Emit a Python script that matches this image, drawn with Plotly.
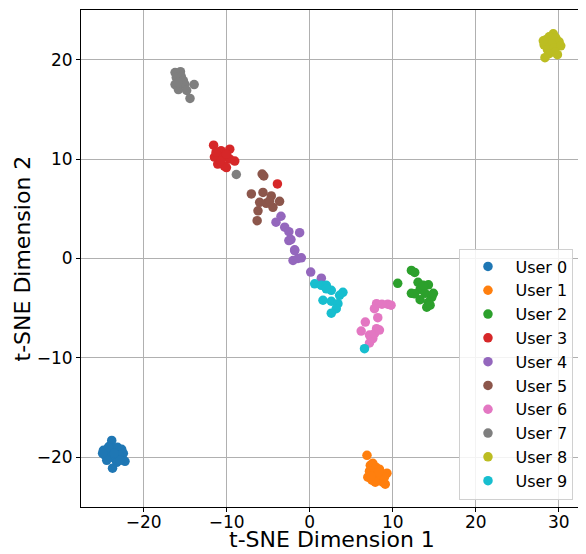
import plotly.graph_objects as go

labels = ["User 0", "User 1", "User 2", "User 3", "User 4",
          "User 5", "User 6", "User 7", "User 8", "User 9"]
colors = ["#1f77b4", "#ff7f0e", "#2ca02c", "#d62728", "#9467bd",
          "#8c564b", "#e377c2", "#7f7f7f", "#bcbd22", "#17becf"]

u0_x = [-23.85, -24.15, -24.85, -24.65, -24.25, -23.65, -23.15, -22.65, -22.45, -22.95, -23.45, -23.95, -24.45, -23.25, -22.25, -22.85, -23.75, -24.25, -23.55, -24.95]
u0_y = [-18.3, -18.9, -19.3, -19.8, -19.5, -19.1, -19.0, -19.2, -19.6, -19.8, -20.1, -20.0, -20.3, -20.5, -20.4, -20.3, -21.1, -19.0, -19.6, -19.6]

u1_x = [6.9, 7.3, 7.6, 8.0, 8.4, 7.2, 7.8, 8.6, 9.3, 7.0, 7.5, 8.1, 8.8, 9.0, 7.9, 8.3, 7.4, 9.1]
u1_y = [-19.8, -20.8, -20.6, -21.0, -21.2, -21.4, -21.6, -21.8, -21.6, -22.0, -22.3, -22.2, -22.5, -22.0, -22.5, -21.5, -21.9, -22.7]

u2_x = [12.25, 12.65, 10.6, 13.05, 14.3, 12.25, 13.3, 13.9, 14.7, 13.3, 14.3, 14.1, 12.65, 13.7, 14.9, 14.5]
u2_y = [-1.2, -1.4, -2.5, -2.4, -2.65, -3.5, -3.1, -3.5, -3.9, -4.15, -4.4, -4.9, -3.55, -2.7, -3.5, -4.7]

u3_x = [-11.58, -10.68, -9.63, -11.48, -10.43, -9.63, -9.03, -11.08, -10.28, -10.68, -11.28, -10.03, -3.89, -10.03]
u3_y = [11.4, 10.85, 11.0, 10.2, 10.2, 10.0, 9.8, 9.5, 9.3, 9.8, 10.7, 10.5, 7.5, 9.15]

u4_x = [-3.46, -4.06, -3.01, -2.51, -1.21, -2.51, -1.81, -2.01, -1.01, -1.41, 0.12, 1.4, -1.81, -2.26]
u4_y = [4.25, 3.65, 3.15, 2.7, 2.6, 1.8, 0.87, -0.2, 0.07, 0.0, -1.37, -1.98, 0.8, 1.9]

u5_x = [-5.73, -7.03, -5.63, -4.63, -6.03, -5.23, -3.63, -4.43, -6.23, -6.33, -4.83, -5.53]
u5_y = [8.5, 6.5, 6.65, 6.3, 5.65, 5.55, 5.75, 5.15, 4.8, 3.8, 5.8, 8.3]

u6_x = [8.05, 9.4, 9.8, 7.8, 8.2, 6.7, 8.05, 6.2, 7.2, 7.6, 7.2, 7.8, 8.4, 8.7]
u6_y = [-4.55, -4.6, -4.7, -5.05, -5.95, -6.4, -7.06, -7.3, -7.7, -8.06, -8.5, -7.56, -7.2, -4.6]

u7_x = [-16.22, -15.57, -16.07, -15.47, -16.22, -15.82, -15.02, -14.82, -13.92, -14.42, -15.22, -15.82, -8.84]
u7_y = [18.7, 18.8, 18.2, 18.3, 17.5, 17.0, 17.5, 16.9, 17.5, 16.1, 17.9, 17.7, 8.45]

u8_x = [29.34, 28.84, 28.44, 29.64, 30.04, 29.14, 28.24, 28.64, 29.44, 30.24, 28.84, 28.34, 29.54, 28.14, 29.84]
u8_y = [22.6, 22.3, 22.0, 22.2, 21.8, 21.6, 21.5, 21.0, 21.2, 21.4, 20.6, 20.2, 20.8, 21.9, 20.5]

u9_x = [0.6, 1.4, 2.0, 2.6, 4.0, 3.6, 1.6, 2.6, 3.4, 3.2, 2.6, 2.0, 6.6]
u9_y = [-2.55, -2.7, -2.7, -3.2, -3.4, -3.7, -4.2, -4.3, -4.55, -5.05, -5.5, -3.05, -9.07]

xs = [u0_x, u1_x, u2_x, u3_x, u4_x, u5_x, u6_x, u7_x, u8_x, u9_x]
ys = [u0_y, u1_y, u2_y, u3_y, u4_y, u5_y, u6_y, u7_y, u8_y, u9_y]

x_ticks = [-20, -10, 0, 10, 20, 30]
y_ticks = [-20, -10, 0, 10, 20]
x_ticktext = ["\u221220", "\u221210", "0", "10", "20", "30"]
y_ticktext = ["\u221220", "\u221210", "0", "10", "20"]
x_title = "t-SNE Dimension 1"
y_title = "t-SNE Dimension 2"

fig = go.Figure()
for i, (lab, col, x, y) in enumerate(zip(labels, colors, xs, ys)):
    fig.add_trace(go.Scatter(
        x=x, y=y, mode="markers", name=lab, legendgroup="g%d" % i,
        marker=dict(color=col, size=9.5, line=dict(width=0)),
    ))

axis_common = dict(
    showgrid=True, gridcolor="#b0b0b0", gridwidth=0.8,
    zeroline=False, showline=True, linecolor="black", linewidth=1,
    mirror=True, ticks="outside", ticklen=4, tickcolor="black",
    tickfont=dict(family="DejaVu Sans", size=17, color="black"),
    layer="above traces", automargin=False,
)

# page body has an 8px default margin, so the figure is sized to fit the window
fig.update_layout(
    width=578, height=546,
    margin=dict(l=73, r=4, t=2, b=47),
    plot_bgcolor="white", paper_bgcolor="white",
    font=dict(family="DejaVu Sans", color="black"),
    showlegend=True,
    legend=dict(
        x=0.983, y=0.015, xanchor="right", yanchor="bottom",
        bgcolor="rgba(255,255,255,0.85)", bordercolor="#d0d0d0", borderwidth=1,
        font=dict(family="DejaVu Sans", size=16, color="black"),
        tracegroupgap=0, traceorder="grouped", itemwidth=45,
    ),
    xaxis=dict(range=[-27.55, 32.8], tickvals=x_ticks, ticktext=x_ticktext,
               ticklabelstandoff=-4, **axis_common),
    yaxis=dict(range=[-25.0, 25.0], tickvals=y_ticks, ticktext=y_ticktext,
               **axis_common),
    annotations=[
        dict(text=x_title, xref="paper", yref="paper", x=0.5, y=0,
             xanchor="center", yanchor="middle", yshift=-32, showarrow=False,
             font=dict(family="DejaVu Sans", size=22, color="black")),
        dict(text=y_title, xref="paper", yref="paper", x=0, y=0.5,
             xanchor="center", yanchor="middle", xshift=-59, textangle=-90,
             showarrow=False,
             font=dict(family="DejaVu Sans", size=22, color="black")),
    ],
)

fig.write_html("out.html")
